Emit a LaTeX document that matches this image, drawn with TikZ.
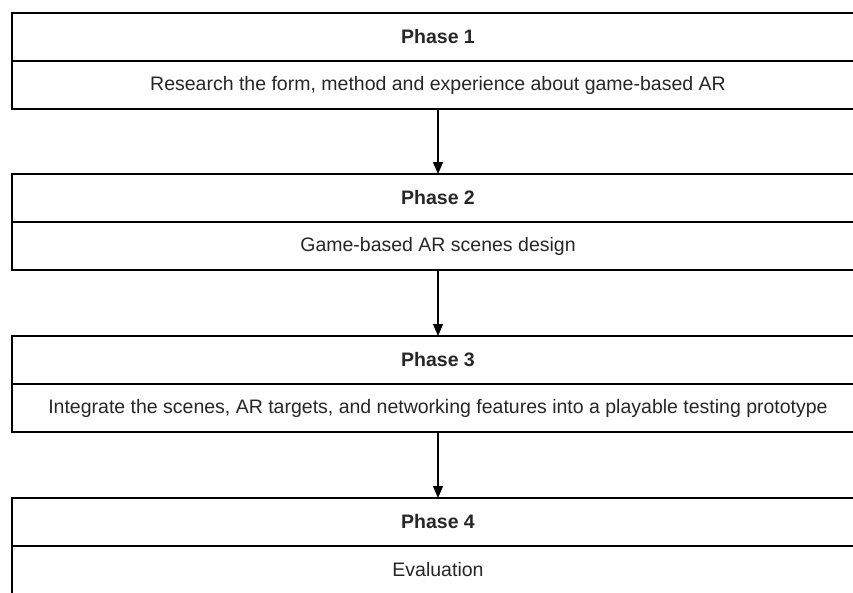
\documentclass[tikz,border=0pt]{standalone}
\usepackage{fontspec}
\setmainfont{Liberation Sans}
\usetikzlibrary{positioning,arrows.meta}

\begin{document}
\begin{tikzpicture}[x=1pt,y=1pt,-{Triangle[width=10pt,length=12pt]},line width=1.2pt]
    \tikzstyle{head}=[rectangle,draw=black,-,minimum width=852pt,minimum height=48pt,inner sep=0pt,outer sep=0pt,text=black!85,font=\fontsize{19.5}{22}\selectfont\bfseries]
    \tikzstyle{body}=[head,font=\fontsize{19.5}{22}\selectfont]
    \clip (0,0) rectangle (853,-592);
    \foreach \num/\y/\txt in {1/13/{Research the form, method and experience about game-based AR},
                              2/174/{Game-based AR scenes design},
                              3/336/{Integrate the scenes, AR targets, and networking features into a playable testing prototype},
                              4/498/{Evaluation}}
        {
        \node[head] (P-\num) at (438,-\y-24) {Phase \num};
        \node[body,below=0pt of P-\num] (B-\num) {\txt};
        }

    \foreach \from/\to in {1/2, 2/3, 3/4}
        \draw (B-\from) -- (P-\to);
\end{tikzpicture}
\end{document}
